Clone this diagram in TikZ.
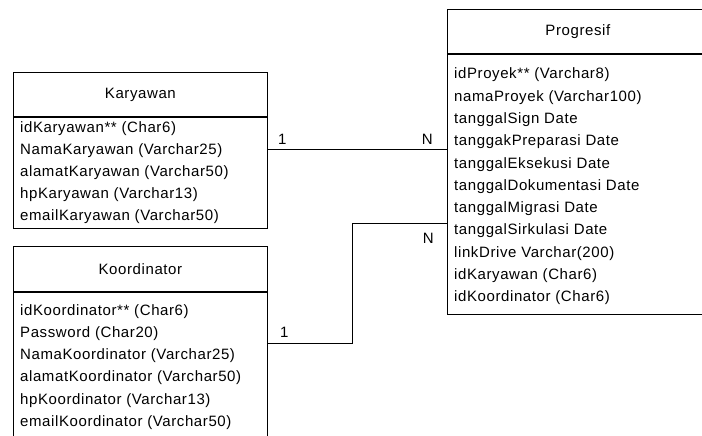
\documentclass[tikz,border=0pt]{standalone}
\usepackage{fontspec}
\setmainfont[LetterSpace=4]{Liberation Sans}
\usetikzlibrary{positioning}

\begin{document}
\begin{tikzpicture}[x=1pt, y=-1pt,
        entity/.style={draw=black, line width=0.8pt, rectangle, inner sep=0pt, anchor=north west},
        attr/.style={anchor=base west, inner sep=0pt},
        card/.style={inner sep=0pt}]

        \fontsize{15}{18}\selectfont
        \useasboundingbox (0,0) rectangle (702,436);

        % Karyawan table
        \node[entity, minimum width=254pt, minimum height=44pt] (karyHead) at (13,72) {Karyawan};
        \node[entity, minimum width=254pt, minimum height=111pt] (karyBody) at (karyHead.south west) {};
        \foreach \t [count=\i from 0] in {idKaryawan** (Char6), NamaKaryawan (Varchar25),
                alamatKaryawan (Varchar50), hpKaryawan (Varchar13), emailKaryawan (Varchar50)}
            \node[attr] at (20, 132+22.2*\i) {\t};

        % Koordinator table
        \node[entity, minimum width=254pt, minimum height=45pt] (koorHead) at (13,246) {Koordinator};
        \node[entity, minimum width=254pt, minimum height=160pt] (koorBody) at (koorHead.south west) {};
        \foreach \t [count=\i from 0] in {idKoordinator** (Char6), Password (Char20),
                NamaKoordinator (Varchar25), alamatKoordinator (Varchar50),
                hpKoordinator (Varchar13), emailKoordinator (Varchar50)}
            \node[attr] at (20, 315+22.3*\i) {\t};

        % Progresif table
        \node[entity, minimum width=261pt, minimum height=44pt] (progHead) at (447,9) {Progresif};
        \node[entity, minimum width=261pt, minimum height=260pt] (progBody) at (progHead.south west) {};
        \foreach \t [count=\i from 0] in {idProyek** (Varchar8), namaProyek (Varchar100),
                tanggalSign Date, tanggakPreparasi Date, tanggalEksekusi Date,
                tanggalDokumentasi Date, tanggalMigrasi Date, tanggalSirkulasi Date,
                linkDrive Varchar(200), idKaryawan (Char6), idKoordinator (Char6)}
            \node[attr] at (454, 79+22.27*\i) {\t};

        % relations
        \coordinate (k1) at ([yshift=-33pt]karyBody.north east);
        \coordinate (k2) at ([yshift=-52pt]koorBody.north east);
        \coordinate (p2) at ([yshift=-170pt]progBody.north west);
        \draw[line width=0.8pt] (k1) -- (progBody.west |- k1);
        \draw[line width=0.8pt] (k2) -- ++(85,0) |- (p2);

        \node[card, anchor=base west] (one1) at ([shift={(10,-5)}]k1) {1};
        \node[card, anchor=base east] (many1) at ([shift={(-14,-5)}]progBody.west |- k1) {N};
        \node[card, anchor=base west] (one2) at ([shift={(12,-6.6)}]k2) {1};
        \node[card, anchor=base east] (many2) at ([shift={(-13,19.7)}]p2) {N};

\end{tikzpicture}
\end{document}
